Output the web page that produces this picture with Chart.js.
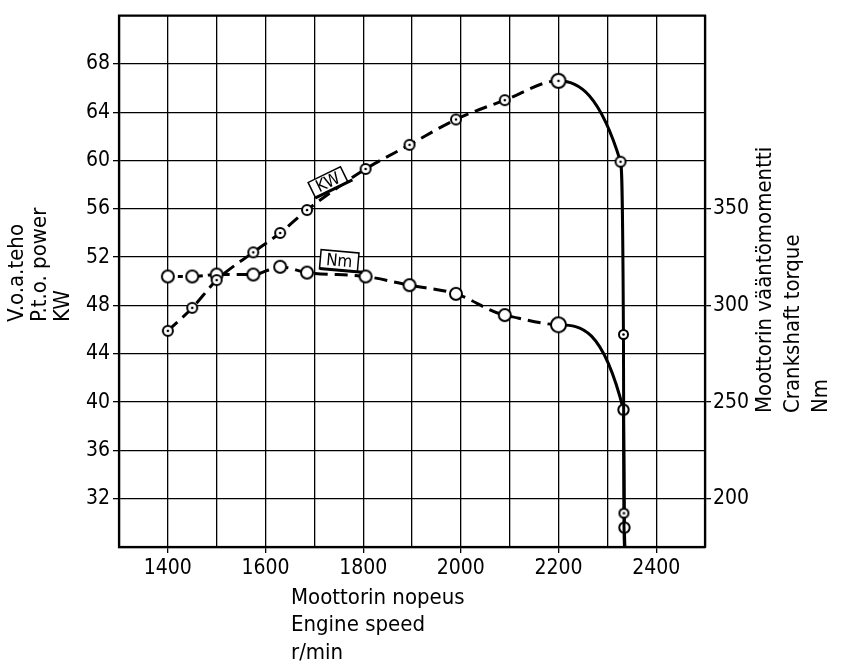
<!DOCTYPE html>
<html>
<head>
<meta charset="utf-8">
<script src="https://cdn.jsdelivr.net/npm/chart.js@4.4.1/dist/chart.umd.min.js"></script>
<style>
  html, body { margin: 0; padding: 0; background: #fff; }
  #wrap { width: 843px; height: 667px; }
</style>
</head>
<body>
<div id="wrap"><canvas id="chart" width="843" height="667"></canvas></div>
<script>
// P.t.o. power curve (r/min, KW)
const kwSpeed = [1400, 1450, 1500, 1575, 1630, 1685, 1805, 1895, 1990, 2090, 2200, 2327, 2333, 2334, 2335];
const kwPower = [45.9, 47.8, 50.1, 52.4, 54.0, 55.9, 59.3, 61.3, 63.4, 65.0, 66.6, 59.9, 45.6, 30.8, 28.0];
// Crankshaft torque curve (r/min, Nm)
const nmSpeed = [1400, 1450, 1500, 1575, 1630, 1685, 1805, 1895, 1990, 2090, 2200, 2333, 2335, 2336];
const nmTorque = [315, 315, 316, 316, 320, 317, 315, 310.5, 306, 295, 290, 246, 185, 175];

const speedTicks = [1400, 1600, 1800, 2000, 2200, 2400];
const powerTicks = [32, 36, 40, 44, 48, 52, 56, 60, 64, 68];
const torqueTicks = [200, 250, 300, 350];

const FONT = "'Liberation Sans Narrow', 'DejaVu Sans Condensed', sans-serif";

// hollow circle markers, optionally with a centre dot
function ring(r, dot) {
  const s = Math.ceil(r * 2 + 4);
  const c = document.createElement('canvas');
  c.width = s; c.height = s;
  const g = c.getContext('2d');
  g.beginPath();
  g.arc(s / 2, s / 2, r, 0, Math.PI * 2);
  g.fillStyle = '#fff';
  g.fill();
  g.lineWidth = 2;
  g.strokeStyle = '#000';
  g.stroke();
  if (dot) {
    g.beginPath();
    g.arc(s / 2, s / 2, 1.3, 0, Math.PI * 2);
    g.fillStyle = '#000';
    g.fill();
  }
  return c;
}
const kwMark = ring(5, true), kwBig = ring(7, true), kwSmall = ring(4.5, true);
const nmMark = ring(6, false), nmBig = ring(7.5, false), nmSmall = ring(5.2, false);

function tagBox(c, x, y, w, h, angle, text) {
  c.save();
  c.translate(x, y);
  c.rotate(angle);
  c.fillStyle = '#fff';
  c.fillRect(-w / 2, -h / 2, w, h);
  c.lineWidth = 1.5;
  c.strokeStyle = '#000';
  c.strokeRect(-w / 2, -h / 2, w, h);
  c.lineWidth = 3;
  c.beginPath();
  c.moveTo(-w / 2, h / 2);
  c.lineTo(w / 2 + 5, h / 2);
  c.stroke();
  c.fillStyle = '#000';
  c.font = '17px ' + FONT;
  c.textAlign = 'center';
  c.textBaseline = 'middle';
  c.fillText(text, 0, 1);
  c.restore();
}

const decorations = {
  id: 'decorations',
  afterDatasetsDraw(chart) {
    const c = chart.ctx, sx = chart.scales.x, sy = chart.scales.y;
    tagBox(c, sx.getPixelForValue(1728), sy.getPixelForValue(58.2), 36, 17, -26 * Math.PI / 180, 'KW');
    tagBox(c, sx.getPixelForValue(1751), sy.getPixelForValue(51.7), 38, 19, 5 * Math.PI / 180, 'Nm');
  },
  afterDraw(chart) {
    const c = chart.ctx, a = chart.chartArea;
    c.save();
    c.strokeStyle = '#000';
    c.lineWidth = 2.2;
    c.strokeRect(a.left, a.top, a.right - a.left, a.bottom - a.top);
    c.fillStyle = '#000';
    c.font = '22px ' + FONT;
    c.textAlign = 'left';
    c.textBaseline = 'middle';
    ['Moottorin nopeus', 'Engine speed', 'r/min'].forEach((t, i) => c.fillText(t, 291, 598 + i * 27.5));
    const vert = (lines, xs, y0) => lines.forEach((t, i) => {
      c.save();
      c.translate(xs[i], y0);
      c.rotate(-Math.PI / 2);
      c.fillText(t, 0, 0);
      c.restore();
    });
    vert(['V.o.a.teho', 'P.t.o. power', 'KW'], [17, 40, 63], 322);
    vert(['Moottorin vääntömomentti', 'Crankshaft torque', 'Nm'], [765, 793, 821], 413);
    c.restore();
  }
};

const tickFont = { family: FONT, size: 21 };

new Chart(document.getElementById('chart'), {
  type: 'line',
  data: {
    datasets: [{
      label: 'KW',
      data: kwSpeed.map((s, i) => ({ x: s, y: kwPower[i] })),
      yAxisID: 'y',
      borderColor: '#000',
      borderWidth: 3,
      borderDash: [13, 7],
      cubicInterpolationMode: 'monotone',
      pointStyle: ctx => ctx.dataIndex === 10 ? kwBig : ctx.dataIndex >= 12 ? kwSmall : kwMark,
      pointRadius: ctx => ctx.dataIndex === kwSpeed.length - 1 ? 0 : 5,
      segment: {
        borderDash: ctx => ctx.p0DataIndex >= 10 ? [] : [13, 7]
      }
    }, {
      label: 'Nm',
      data: nmSpeed.map((s, i) => ({ x: s, y: nmTorque[i] })),
      yAxisID: 'y1',
      borderColor: '#000',
      borderWidth: 3,
      borderDash: [13, 7],
      cubicInterpolationMode: 'monotone',
      pointStyle: ctx => ctx.dataIndex === 10 ? nmBig : ctx.dataIndex >= 11 ? nmSmall : nmMark,
      pointRadius: ctx => ctx.dataIndex === nmSpeed.length - 1 ? 0 : 5,
      segment: {
        borderDash: ctx => ctx.p0DataIndex >= 10 ? [] : ctx.p0DataIndex <= 1 ? [5, 5] : [13, 7]
      }
    }]
  },
  options: {
    responsive: false,
    animation: false,
    layout: { padding: { top: 9, left: 0, right: 0, bottom: 0 } },
    plugins: { legend: { display: false }, tooltip: { enabled: false } },
    scales: {
      x: {
        type: 'linear',
        min: 1300,
        max: 2500,
        afterFit: s => { s.height = 120; },
        ticks: {
          stepSize: 100,
          autoSkip: false,
          maxRotation: 0,
          color: '#000',
          font: tickFont,
          padding: 3,
          callback: v => speedTicks.includes(v) ? v : ''
        },
        grid: {
          color: '#000',
          lineWidth: 1.3,
          tickLength: 6,
          tickColor: ctx => speedTicks.includes(ctx.tick && ctx.tick.value) ? '#000' : 'rgba(0,0,0,0)'
        },
        border: { color: '#000', width: 2.2 }
      },
      y: {
        position: 'left',
        min: 28,
        max: 72,
        afterFit: s => { s.width = 119; },
        ticks: {
          stepSize: 4,
          autoSkip: false,
          color: '#000',
          font: tickFont,
          padding: 3,
          callback: v => powerTicks.includes(v) ? v : ''
        },
        grid: {
          color: '#000',
          lineWidth: 1.3,
          tickLength: 6,
          tickColor: ctx => powerTicks.includes(ctx.tick && ctx.tick.value) ? '#000' : 'rgba(0,0,0,0)'
        },
        border: { color: '#000', width: 2.2 }
      },
      y1: {
        position: 'right',
        min: 175,
        max: 450,
        afterFit: s => { s.width = 138; },
        ticks: {
          stepSize: 25,
          autoSkip: false,
          color: '#000',
          font: tickFont,
          padding: 2,
          callback: v => torqueTicks.includes(v) ? v : ''
        },
        grid: {
          drawOnChartArea: false,
          lineWidth: 1.3,
          tickLength: 6,
          tickColor: ctx => torqueTicks.includes(ctx.tick && ctx.tick.value) ? '#000' : 'rgba(0,0,0,0)'
        },
        border: { color: '#000', width: 2.2 }
      }
    }
  },
  plugins: [decorations]
});
</script>
</body>
</html>
